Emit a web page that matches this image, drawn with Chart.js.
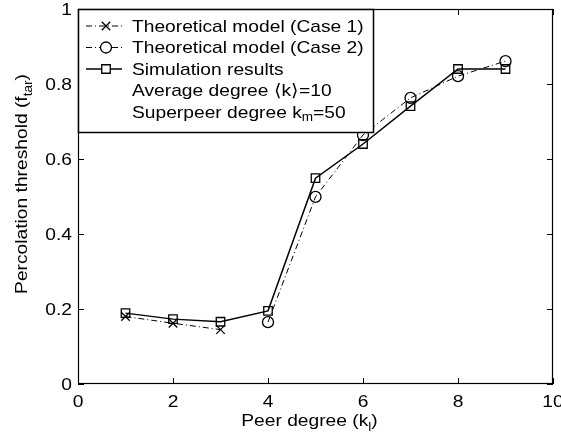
<!DOCTYPE html>
<html>
<head>
<meta charset="utf-8">
<script src="https://cdn.jsdelivr.net/npm/chart.js@4/dist/chart.umd.min.js"></script>
<style>
  html, body { margin: 0; padding: 0; background: #fff; }
  #wrap { width: 561px; height: 439px; }
</style>
</head>
<body>
<div id="wrap"><canvas id="myChart" width="561" height="439"></canvas></div>
<script>
// data
const case1K = [1, 2, 3];
const case1F = [0.180, 0.162, 0.145];
const case2K = [4, 5, 6, 7, 8, 9];
const case2F = [0.165, 0.499, 0.664, 0.763, 0.821, 0.861];
const simK = [1, 2, 3, 4, 5, 6, 7, 8, 9];
const simF = [0.189, 0.173, 0.166, 0.195, 0.549, 0.640, 0.741, 0.840, 0.840];
const xTicks = [0, 2, 4, 6, 8, 10];
const yTicks = [0, 0.2, 0.4, 0.6, 0.8, 1];

const FONT = '"Liberation Sans", Arial, sans-serif';
const FS = 17;
const SX = 1.13;   // the original figure text is a bit wider than it is tall
const dashDot = [6, 3, 1, 3];

const toPts = (xs, ys) => xs.map((x, i) => ({ x: x, y: ys[i] }));
const yLabel = v => (v === 0 || v === 1) ? String(v) : v.toFixed(1);

// text made of normal and subscript pieces
function partsWidth(ctx, parts, size) {
  let w = 0;
  parts.forEach(p => {
    ctx.font = (p[1] ? Math.round(size * 0.72) : size) + 'px ' + FONT;
    w += ctx.measureText(p[0]).width;
  });
  return w;
}
function drawParts(ctx, parts, x, y, size) {
  let cx = x;
  parts.forEach(p => {
    ctx.font = (p[1] ? Math.round(size * 0.72) : size) + 'px ' + FONT;
    ctx.fillText(p[0], cx, y + (p[1] ? size * 0.3 : 0));
    cx += ctx.measureText(p[0]).width;
  });
}
// stretched text; align: 'left' | 'center' | 'right'; rot in radians
function hText(ctx, parts, x, y, align, rot) {
  const w = partsWidth(ctx, parts, FS) * SX;
  let off = 0;
  if (align === 'center') off = -w / 2;
  if (align === 'right') off = -w;
  ctx.save();
  ctx.translate(x, y);
  if (rot) ctx.rotate(rot);
  ctx.translate(off, 0);
  ctx.scale(SX, 1);
  drawParts(ctx, parts, 0, 0, FS);
  ctx.restore();
}

const matlabFrame = {
  id: 'matlabFrame',
  afterDraw(chart) {
    const ctx = chart.ctx;
    const a = chart.chartArea;
    const xs = chart.scales.x, ys = chart.scales.y;
    ctx.save();
    ctx.strokeStyle = '#000';
    ctx.lineWidth = 1.2;
    ctx.strokeRect(a.left + 0.5, a.top + 0.5, a.right - a.left - 1, a.bottom - a.top - 1);
    // inward ticks on all sides
    const tl = 6;
    ctx.lineWidth = 1;
    ctx.beginPath();
    xTicks.forEach(v => {
      const px = Math.round(xs.getPixelForValue(v)) + 0.5;
      ctx.moveTo(px, a.bottom); ctx.lineTo(px, a.bottom - tl);
      ctx.moveTo(px, a.top); ctx.lineTo(px, a.top + tl);
    });
    yTicks.forEach(v => {
      const py = Math.round(ys.getPixelForValue(v)) + 0.5;
      ctx.moveTo(a.left, py); ctx.lineTo(a.left + tl, py);
      ctx.moveTo(a.right, py); ctx.lineTo(a.right - tl, py);
    });
    ctx.stroke();

    // tick labels
    ctx.fillStyle = '#000';
    ctx.textBaseline = 'alphabetic';
    ctx.textAlign = 'left';
    xTicks.forEach(v => {
      hText(ctx, [[String(v), false]], xs.getPixelForValue(v), a.bottom + 23, 'center');
    });
    yTicks.forEach(v => {
      hText(ctx, [[yLabel(v), false]], a.left - 6, ys.getPixelForValue(v) + 6, 'right');
    });

    // axis titles
    hText(ctx, [['Peer degree (k', false], ['l', true], [')', false]], (a.left + a.right) / 2 - 6, 426, 'center');
    hText(ctx, [['Percolation threshold (f', false], ['tar', true], [')', false]], 27, 184, 'center', -Math.PI / 2);
    ctx.restore();

    // legend box
    ctx.save();
    const lx = a.left, ly = a.top, lw = 295, lh = 123;
    ctx.fillStyle = '#fff';
    ctx.fillRect(lx, ly, lw, lh);
    ctx.strokeStyle = '#000';
    ctx.lineWidth = 1.5;
    ctx.strokeRect(lx + 0.5, ly + 0.5, lw, lh);
    const rows = [
      { parts: [['Theoretical model (Case 1)', false]], ds: 0 },
      { parts: [['Theoretical model (Case 2)', false]], ds: 1 },
      { parts: [['Simulation results', false]], ds: 2 },
      { parts: [['Average degree \u27E8k\u27E9=10', false]] },
      { parts: [['Superpeer degree k', false], ['m', true], ['=50', false]] }
    ];
    ctx.textBaseline = 'middle';
    rows.forEach((r, i) => {
      const cy = ly + 17 + i * 21.5;
      if (r.ds !== undefined) {
        const d = chart.data.datasets[r.ds];
        ctx.save();
        ctx.strokeStyle = '#000';
        ctx.lineWidth = d.borderWidth;
        ctx.setLineDash(d.borderDash || []);
        ctx.beginPath();
        ctx.moveTo(lx + 8, cy); ctx.lineTo(lx + 44, cy);
        ctx.stroke();
        ctx.setLineDash([]);
        ctx.lineWidth = 1.3;
        ctx.fillStyle = '#fff';
        Chart.helpers.drawPoint(ctx, { pointStyle: d.pointStyle, radius: d.pointRadius, borderWidth: 1.3 }, lx + 28, cy);
        ctx.restore();
      }
      ctx.fillStyle = '#000';
      hText(ctx, r.parts, lx + 54, cy + 1, 'left');
    });
    ctx.restore();
  }
};

const ctx = document.getElementById('myChart').getContext('2d');
const chart = new Chart(ctx, {
  type: 'line',
  data: {
    datasets: [
      {
        label: 'Theoretical model (Case 1)',
        data: toPts(case1K, case1F),
        borderColor: '#000', backgroundColor: 'transparent',
        borderWidth: 1, borderDash: dashDot,
        pointStyle: 'crossRot', pointRadius: 6, pointBorderWidth: 1.3,
        pointBorderColor: '#000'
      },
      {
        label: 'Theoretical model (Case 2)',
        data: toPts(case2K, case2F),
        borderColor: '#000', backgroundColor: 'transparent',
        borderWidth: 1, borderDash: dashDot,
        pointStyle: 'circle', pointRadius: 5.5, pointBorderWidth: 1.3,
        pointBorderColor: '#000', pointBackgroundColor: 'transparent'
      },
      {
        label: 'Simulation results',
        data: toPts(simK, simF),
        borderColor: '#000', backgroundColor: 'transparent',
        borderWidth: 1.5,
        pointStyle: 'rect', pointRadius: 6, pointBorderWidth: 1.3,
        pointBorderColor: '#000', pointBackgroundColor: 'transparent'
      }
    ]
  },
  options: {
    responsive: false,
    animation: false,
    layout: { padding: { top: 9, right: 8, left: 0, bottom: 0 } },
    plugins: { legend: { display: false }, tooltip: { enabled: false } },
    elements: { line: { tension: 0 } },
    scales: {
      x: {
        type: 'linear', min: 0, max: 10,
        afterBuildTicks: s => { s.ticks = xTicks.map(v => ({ value: v })); },
        afterFit: s => { s.height = 55; },
        grid: { display: false },
        border: { display: false },
        ticks: { display: false }
      },
      y: {
        type: 'linear', min: 0, max: 1,
        afterBuildTicks: s => { s.ticks = yTicks.map(v => ({ value: v })); },
        afterFit: s => { s.width = 78; },
        grid: { display: false },
        border: { display: false },
        ticks: { display: false }
      }
    }
  },
  plugins: [matlabFrame]
});
</script>
</body>
</html>
